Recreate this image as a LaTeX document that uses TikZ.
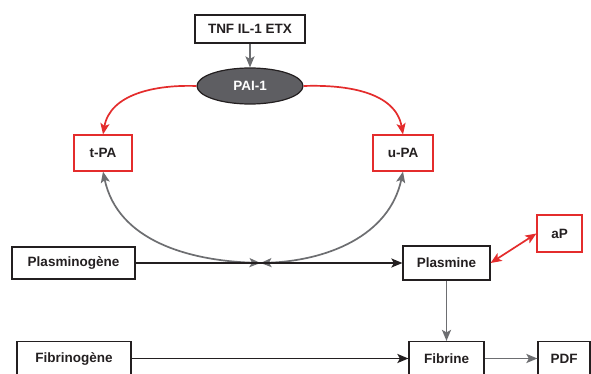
\documentclass[tikz,border=0pt]{standalone}
\usepackage{fontspec}
\setmainfont{Liberation Sans}
\usetikzlibrary{shapes.geometric,arrows.meta}
\definecolor{linegray}{HTML}{6D6E71}
\definecolor{linered}{HTML}{E42C2C}
\definecolor{paigray}{HTML}{5E5E62}
\definecolor{lineblack}{HTML}{231F20}

\begin{document}
\begin{tikzpicture}[x=1pt,y=1pt,
    font=\fontsize{13.5}{16}\selectfont\bfseries,
    box/.style={shape=rectangle,draw=lineblack,line width=1.2pt,inner sep=0pt,text=lineblack},
    redbox/.style={box,draw=linered},
    tip/.style={-{Stealth[length=11pt,width=9pt,inset=2.5pt]}},
    tips/.style={{Stealth[length=11pt,width=9pt,inset=2.5pt]}-{Stealth[length=11pt,width=9pt,inset=2.5pt]}},
    grayline/.style={draw=linegray,line width=1.7pt},
    redline/.style={draw=linered,line width=1.7pt},
    blackline/.style={draw=lineblack,line width=1.7pt}]
    \clip (0,0) rectangle (591,373);
    \fill[white] (0,0) rectangle (591,373);
        \node[box,minimum width=110pt,minimum height=28pt] (tnf) at (250,344){TNF IL-1 ETX};
        \node[shape=ellipse,draw=lineblack,line width=1.2pt,fill=paigray,text=white,minimum width=106pt,minimum height=36pt,inner sep=0pt] (pai) at (250,287){PAI-1};
        \node[redbox,minimum width=58pt,minimum height=36pt] (tpa) at (103,220){t-PA};
        \node[redbox,minimum width=60pt,minimum height=36pt] (upa) at (403,220){u-PA};
        \node[box,minimum width=123pt,minimum height=32pt] (plg) at (73.5,110){Plasminogène};
        \node[box,minimum width=87pt,minimum height=34pt] (pls) at (446.5,110){Plasmine};
        \node[redbox,minimum width=45pt,minimum height=37pt] (ap) at (559.5,139.5){aP};
        \node[box,minimum width=114pt,minimum height=34pt] (fbg) at (74,14.5){Fibrinogène};
        \node[box,minimum width=75pt,minimum height=34pt] (fib) at (446.5,14.5){Fibrine};
        \node[box,minimum width=52pt,minimum height=34pt] (pdf) at (564,14.5){PDF};
        \coordinate (j) at (260.5,110);
        \path (tnf) edge[grayline,tip] (pai);
        \path (pai.west) edge[redline,tip,out=178,in=80] (tpa.north);
        \path (pai.east) edge[redline,tip,out=2,in=100] (upa.north);
        \path (tpa.south) edge[grayline,tips,out=-78,in=178] (j);
        \path (upa.south) edge[grayline,tips,out=-102,in=2] (j);
        \path (plg) edge[blackline,tip] (pls);
        \path (pls.east) edge[redline,tips] (ap.west);
        \path (pls) edge[grayline,tip] (fib);
        \path (fbg) edge[blackline,tip] (fib);
        \path (fib) edge[grayline,tip] (pdf);
    \end{tikzpicture}
\end{document}
